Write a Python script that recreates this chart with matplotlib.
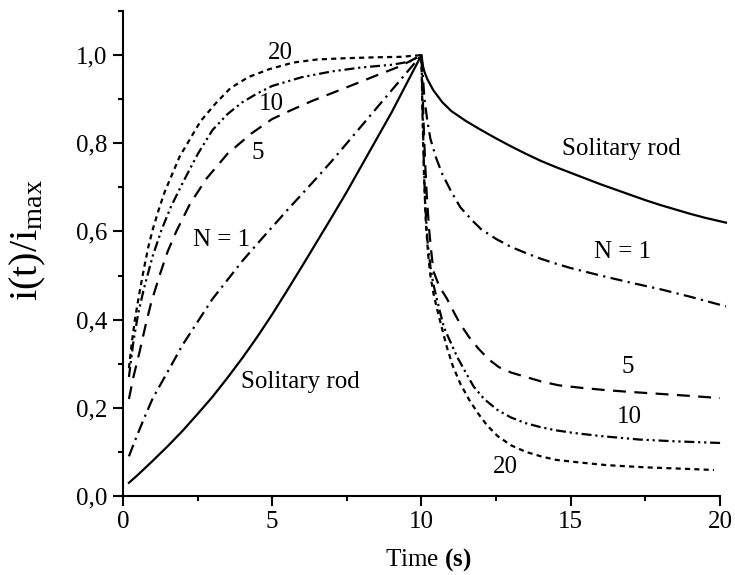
import matplotlib.pyplot as plt
from matplotlib.ticker import FixedLocator, FuncFormatter

plt.rcParams['font.family'] = ['Liberation Serif', 'DejaVu Serif']
plt.rcParams['mathtext.fontset'] = 'custom'
plt.rcParams['mathtext.rm'] = 'Liberation Serif'
plt.rcParams['mathtext.it'] = 'Liberation Serif:italic'
plt.rcParams['mathtext.bf'] = 'Liberation Serif:bold'

# rise phase (0..10 s) and decay phase (10..20 s)
T_SOL = [0.2, 0.5, 1, 1.5, 2, 2.5, 3, 3.5, 4, 4.5, 5, 5.5, 6, 6.5, 7, 7.5, 8, 8.5, 9, 9.5, 10,
         10.05, 10.1, 10.2, 10.4, 10.7, 11, 11.5, 12, 12.5, 13, 13.5, 14, 14.5, 15, 15.5, 16,
         16.5, 17, 17.5, 18, 18.5, 19, 19.5, 20.2]
Y_SOL = [0.030, 0.048, 0.080, 0.113, 0.148, 0.186, 0.225, 0.268, 0.313, 0.361, 0.412, 0.466,
         0.521, 0.577, 0.633, 0.69, 0.75, 0.81, 0.87, 0.935, 1.0,
         0.975, 0.962, 0.945, 0.92, 0.893, 0.873, 0.85, 0.83, 0.811, 0.793, 0.776, 0.76, 0.746,
         0.733, 0.72, 0.707, 0.695, 0.683, 0.671, 0.66, 0.65, 0.64, 0.631, 0.62]

T_N1 = [0.2, 0.4, 0.7, 1.0, 1.5, 2.0, 2.5, 3.0, 3.5, 4.0, 4.5, 5.0, 5.5, 6.0, 6.5, 7, 7.5, 8,
        8.5, 9, 9.5, 10,
        10.05, 10.1, 10.2, 10.3, 10.5, 10.7, 11, 11.3, 11.7, 12, 12.5, 13, 13.5, 14, 14.5, 15,
        16, 17, 18, 19, 20.2]
Y_N1 = [0.09, 0.125, 0.175, 0.222, 0.282, 0.343, 0.395, 0.447, 0.49, 0.533, 0.572, 0.61,
        0.648, 0.685, 0.722, 0.76, 0.80, 0.84, 0.88, 0.92, 0.96, 1.0,
        0.95, 0.90, 0.85, 0.81, 0.765, 0.73, 0.69, 0.655, 0.625, 0.605, 0.583, 0.565, 0.551,
        0.538, 0.527, 0.517, 0.50, 0.484, 0.469, 0.452, 0.43]

T_N5 = [0.2, 0.35, 0.55, 0.75, 0.95, 1.25, 1.5, 1.8, 2.25, 2.8, 3.5, 4.3, 5.0, 5.6, 6.3,
        7.05, 7.8, 8.5, 9.3, 10,
        10.03, 10.07, 10.12, 10.18, 10.25, 10.32, 10.4, 10.6, 10.85, 11.1, 11.3, 11.6, 11.9,
        12.25, 12.6, 13.0, 13.5, 14, 14.6, 15.4, 16.2, 17, 17.9, 19, 20.0]
Y_N5 = [0.22, 0.27, 0.325, 0.385, 0.44, 0.505, 0.555, 0.602, 0.663, 0.72, 0.776, 0.822,
        0.855, 0.874, 0.895, 0.915, 0.935, 0.954, 0.975, 1.0,
        0.93, 0.85, 0.76, 0.68, 0.61, 0.56, 0.51, 0.475, 0.448, 0.415, 0.39, 0.36, 0.335,
        0.31, 0.292, 0.28, 0.27, 0.26, 0.251, 0.245, 0.24, 0.236, 0.232, 0.227, 0.222]

T_N10 = [0.2, 0.35, 0.5, 0.7, 1.0, 1.3, 1.6, 2.0, 2.5, 3.0, 3.5, 4.0, 4.5, 5.0, 6.0, 7.0,
         8.0, 9.0, 9.6, 10,
         10.03, 10.07, 10.12, 10.2, 10.3, 10.4, 10.5, 10.75, 11.0, 11.2, 11.5, 11.75, 12.1,
         12.55, 13.0, 13.5, 14.0, 14.5, 15.1, 16, 17.3, 18.5, 20.1]
Y_N10 = [0.27, 0.35, 0.41, 0.47, 0.545, 0.605, 0.655, 0.71, 0.775, 0.83, 0.866, 0.893,
         0.913, 0.93, 0.95, 0.963, 0.972, 0.978, 0.985, 1.0,
         0.90, 0.78, 0.67, 0.58, 0.52, 0.48, 0.451, 0.383, 0.345, 0.315, 0.278, 0.248, 0.22,
         0.195, 0.178, 0.165, 0.156, 0.149, 0.143, 0.136, 0.128, 0.124, 0.12]

T_N20 = [0.2, 0.3, 0.4, 0.55, 0.7, 0.85, 1.0, 1.2, 1.4, 1.65, 1.9, 2.25, 2.6, 3.1, 3.6,
         4.2, 4.9, 5.7, 6.5, 7.5, 8.5, 9.3, 10,
         10.03, 10.08, 10.14, 10.22, 10.3, 10.4, 10.52, 10.65, 10.85, 11.05, 11.3, 11.6,
         11.9, 12.2, 12.55, 13.0, 13.5, 14.0, 14.5, 15.3, 16.2, 17.5, 18.7, 19.8]
Y_N20 = [0.29, 0.35, 0.40, 0.46, 0.515, 0.565, 0.605, 0.65, 0.69, 0.73, 0.77, 0.81, 0.85,
         0.89, 0.925, 0.95, 0.968, 0.983, 0.99, 0.993, 0.995, 0.996, 1.0,
         0.88, 0.74, 0.63, 0.55, 0.50, 0.46, 0.425, 0.39, 0.338, 0.295, 0.255, 0.218,
         0.187, 0.16, 0.136, 0.115, 0.10, 0.09, 0.082, 0.076, 0.07, 0.065, 0.062, 0.059]

LABELS = [("20", 5.27, 1.005), ("10", 4.97, 0.888), ("5", 4.5, 0.777),
          ("N = 1", 3.32, 0.58), ("Solitary rod", 5.94, 0.258),
          ("Solitary rod", 16.7, 0.786), ("N = 1", 16.75, 0.553),
          ("5", 16.9, 0.292), ("10", 16.95, 0.179), ("20", 12.8, 0.066)]

LW = 1.6
fig = plt.figure(figsize=(7.35, 5.75), dpi=100)
ax = fig.add_axes([0.1673, 0.1374, 0.8122, 0.8435])

ax.plot(T_SOL, Y_SOL, color="black", lw=LW, clip_on=False)
ax.plot(T_N1, Y_N1, color="black", lw=LW, dashes=(5.5, 2.4, 1.0, 2.4), clip_on=False)
ax.plot(T_N5, Y_N5, color="black", lw=LW, dashes=(5.8, 3.8), clip_on=False)
ax.plot(T_N10, Y_N10, color="black", lw=LW, dashes=(4.5, 1.7, 1.0, 1.7, 1.0, 1.7), clip_on=False)
ax.plot(T_N20, Y_N20, color="black", lw=LW, dashes=(2.3, 1.9), clip_on=False)

for txt, x, y in LABELS:
    ax.text(x, y, txt, fontsize=18, ha="center", va="center")

ax.set_xlim(0, 20)
ax.set_ylim(0, 1.1)
ax.spines["top"].set_visible(False)
ax.spines["right"].set_visible(False)
for s in ["left", "bottom"]:
    ax.spines[s].set_linewidth(1.5)

ax.xaxis.set_major_locator(FixedLocator([0, 5, 10, 15, 20]))
ax.xaxis.set_minor_locator(FixedLocator([2.5, 7.5, 12.5, 17.5]))
ax.yaxis.set_major_locator(FixedLocator([0, 0.2, 0.4, 0.6, 0.8, 1.0]))
ax.yaxis.set_minor_locator(FixedLocator([0.1, 0.3, 0.5, 0.7, 0.9, 1.1]))
ax.yaxis.set_major_formatter(FuncFormatter(lambda v, p: ("%.1f" % v).replace(".", ",")))
ax.tick_params(which="major", direction="out", length=7, width=1.5, labelsize=18, pad=4)
ax.tick_params(which="minor", direction="out", length=3.5, width=1.5)

fig.text(428 / 735, 1 - 560 / 575, r"Time $\mathbf{(s)}$", fontsize=18, ha="center", va="center")
fig.text(28 / 735, 1 - 240 / 575, r"i(t)/i$_{\rm max}$", fontsize=29, rotation=90,
         ha="center", va="center")

fig.savefig("out.png", dpi=100)
